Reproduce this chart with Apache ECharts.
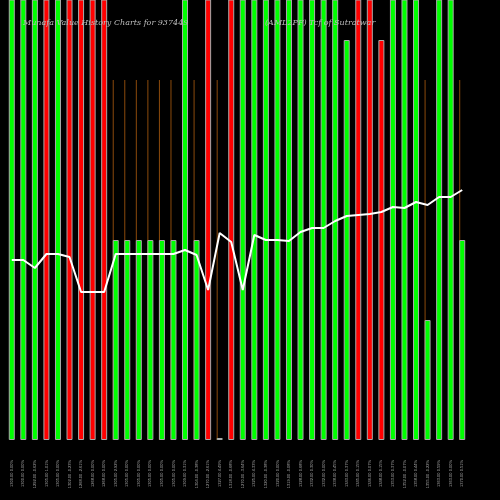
<!DOCTYPE html>
<html>
<head>
<meta charset="utf-8">
<script src="https://cdn.jsdelivr.net/npm/echarts@6/dist/echarts.min.js"></script>
<style>html,body{margin:0;background:#000}#main{width:500px;height:500px}</style>
</head>
<body>
<div id="main"></div>
<script>
const labels = ['1300.00 0.00%','1300.00 0.00%','1292.00 -0.62%','1305.00 1.01%','1305.00 0.00%','1302.00 -0.23%','1268.00 -2.61%','1268.00 0.00%','1268.00 0.00%','1305.00 2.92%',
  '1305.00 0.00%','1305.00 0.00%','1305.00 0.00%','1305.00 0.00%','1305.00 0.00%','1309.00 0.31%','1304.00 -0.38%','1270.00 -2.61%','1327.00 4.49%','1318.00 -0.68%',
  '1270.00 -3.64%','1325.00 4.33%','1320.00 -0.38%','1320.00 0.00%','1319.00 -0.08%','1328.00 0.68%','1332.00 0.30%','1332.00 0.00%','1338.00 0.45%','1343.00 0.37%',
  '1345.00 0.15%','1346.00 0.07%','1348.00 0.15%','1353.00 0.37%','1352.00 -0.07%','1358.00 0.44%','1355.00 -0.22%','1363.00 0.59%','1363.00 0.00%','1370.00 0.51%'];
// bar heights (clipped at top when full)
const volumes = [500,500,500,500,500,500,500,500,500,200, 200,200,200,200,200,500,200,500,2,500,
  500,500,500,500,500,500,500,500,500,400, 500,500,400,500,500,500,120,500,500,200];
// 1 = up (green), 0 = down (red)
const updown = [1,1,1,0,1,0,0,0,0,1, 1,1,1,1,1,1,1,0,1,0, 1,1,1,1,1,1,1,1,1,1, 0,0,0,1,1,1,1,1,1,1];
const markers = [0,0,0,0,0,0,0,0,0,360, 360,360,360,360,360,0,360,0,360,0, 0,0,0,0,0,0,0,0,0,0, 0,0,0,0,0,0,360,0,0,360];
const price = [180,180,172,186,186,183,148,148,148,186, 186,186,186,186,186,190,185,150,207,198,
  150,205,200,200,199,208,212,212,219,224, 225,226,228,233,232,238,235,243,243,250];

const chart = echarts.init(document.getElementById('main'));
chart.setOption({
  backgroundColor: '#000',
  animation: false,
  title: [
    {text: 'Munafa Value History Charts for 937449', left: 18, top: 14,
     textStyle: {color: '#bbb', fontFamily: 'DejaVu Serif', fontStyle: 'italic', fontWeight: 'normal', fontSize: 8}},
    {text: '(AML2PF) Tcf of Sutratwar', left: 260, top: 14,
     textStyle: {color: '#bbb', fontFamily: 'DejaVu Serif', fontStyle: 'italic', fontWeight: 'normal', fontSize: 8}}
  ],
  grid: {left: 6, right: 32, top: 0, bottom: 60},
  xAxis: {
    type: 'category', data: labels,
    axisLine: {show: false}, axisTick: {show: false},
    axisLabel: {rotate: 90, color: '#aaa', fontSize: 4, interval: 0, margin: 20}
  },
  yAxis: {type: 'value', min: 0, max: 440, show: false, splitLine: {show: false}},
  series: [
    {type: 'bar', data: markers, barWidth: 1, barGap: '-100%', z: 1,
     itemStyle: {color: '#8b4a0c'}},
    {type: 'bar', barWidth: 6, z: 2,
     data: volumes.map((v, i) => ({value: v, itemStyle: {color: updown[i] ? '#00ff00' : '#ff0000'}})),
     itemStyle: {borderColor: '#aaa', borderWidth: 1}},
    {type: 'line', data: price, z: 3, symbol: 'none',
     lineStyle: {color: '#fff', width: 2}}
  ]
});
</script>
</body>
</html>
